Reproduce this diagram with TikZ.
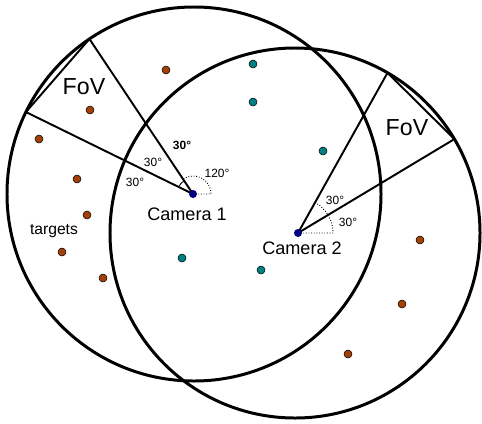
\documentclass[tikz,border=0pt]{standalone}
\usepackage{fontspec}
\setmainfont{Liberation Sans}
\usepackage{tikz}
\usetikzlibrary{positioning,calc}
\definecolor{tgtred}{RGB}{163,64,8}
\definecolor{tgtteal}{RGB}{0,128,128}
\definecolor{camblue}{RGB}{0,0,128}

\begin{document}
\begin{tikzpicture}[x=0.02cm,y=-0.02cm,
    rangecircle/.style={line width=1.7pt},
    fovline/.style={line width=1.1pt},
    anglemark/.style={densely dotted,line width=0.5pt},
    target/.style={circle,draw=black,line width=0.3pt,inner sep=0pt,minimum size=0.16cm},
    camera/.style={circle,fill=camblue,inner sep=0pt,minimum size=0.16cm},
    deg/.style={font=\fontsize{6.8}{8}\selectfont},
    camlabel/.style={font=\fontsize{10.3}{12}\selectfont},
    fovlabel/.style={font=\fontsize{13.2}{15}\selectfont}
]
\useasboundingbox (0,0) rectangle (482,423);

\coordinate (o1) at (194,194);
\coordinate (o2) at (295,233);
\coordinate (p1) at (193,194);
\coordinate (p2) at (298,233);

\draw[rangecircle] (o1) circle[radius=187];
\draw[rangecircle] (o2) circle[radius=185];

\coordinate (f1a) at ($(o1)+(-124:187)$);
\coordinate (f1b) at ($(o1)+(-154:187)$);
\coordinate (f2a) at ($(o2)+(-60:185)$);
\coordinate (f2b) at ($(o2)+(-30.5:185)$);

\draw[fovline] (p1) -- (f1a);
\draw[fovline] (p1) -- (f1b);
\draw[fovline] (f1a) -- (f1b);
\draw[fovline] (p2) -- (f2a);
\draw[fovline] (p2) -- (f2b);
\draw[fovline] (f2a) -- (f2b);

\draw[anglemark] (p1) -- ++(18,0) arc[start angle=0,end angle=-124,radius=18];
\draw[line width=0.5pt] ($(p1)+(-124:16)$) arc[start angle=-124,end angle=-154,radius=16];
\draw[anglemark] (p2) -- ++(35,0) arc[start angle=0,end angle=-61,radius=35];

\node[target,fill=tgtred] (r1) at (166,70) {};
\node[target,fill=tgtred] (r2) at (90,110) {};
\node[target,fill=tgtred] (r3) at (39,139) {};
\node[target,fill=tgtred] (r4) at (77,179) {};
\node[target,fill=tgtred] (r5) at (87,215) {};
\node[target,fill=tgtred] (r6) at (62,252) {};
\node[target,fill=tgtred] (r7) at (103,278) {};
\node[target,fill=tgtred] (r8) at (420,240) {};
\node[target,fill=tgtred] (r9) at (402,304) {};
\node[target,fill=tgtred] (r10) at (348,354) {};

\node[target,fill=tgtteal] (t1) at (253,64) {};
\node[target,fill=tgtteal] (t2) at (253,102) {};
\node[target,fill=tgtteal] (t3) at (323,151) {};
\node[target,fill=tgtteal] (t4) at (182,258) {};
\node[target,fill=tgtteal] (t5) at (261,270) {};

\node[camera] (cam1) at (p1) {};
\node[camera] (cam2) at (p2) {};

\node[camlabel] (cam1lbl) at (187,214) {Camera 1};
\node[camlabel] (cam2lbl) at (302,248) {Camera 2};
\node[font=\fontsize{8.9}{10}\selectfont] (tgtlbl) at (54,231) {targets};
\node[fovlabel] (fov1) at (84,87) {FoV};
\node[fovlabel] (fov2) at (407,128) {FoV};

\node[deg,font=\fontsize{6.8}{8}\selectfont\bfseries] (a1) at (182,145) {30°};
\node[deg] (a2) at (153,162) {30°};
\node[deg] (a3) at (135,182) {30°};
\node[deg] (a4) at (217,173) {120°};
\node[deg] (a5) at (335,200) {30°};
\node[deg] (a6) at (348,222) {30°};
\end{tikzpicture}
\end{document}
